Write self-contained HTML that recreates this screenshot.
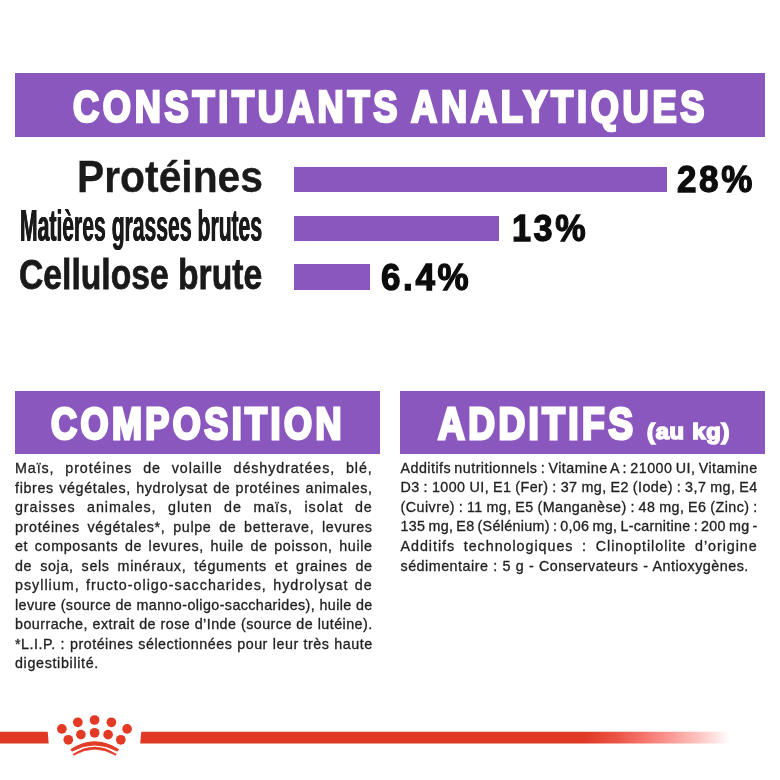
<!DOCTYPE html>
<html lang="fr">
<head>
<meta charset="utf-8">
<title>Constituants analytiques</title>
<style>
html,body{margin:0;padding:0;background:#fff;}
body{width:780px;height:780px;position:relative;overflow:hidden;font-family:"Liberation Sans",sans-serif;}
.box{position:absolute;background:#8a57bf;}
.t{position:absolute;white-space:nowrap;line-height:1;font-weight:bold;transform-origin:0 0;}
.w{color:#fff;}
.k{color:#1a1a1a;}
.v{color:#0c0c0c;-webkit-text-stroke:1.3px #0c0c0c;letter-spacing:2.8px;}
.bar{position:absolute;left:294.1px;height:25.6px;background:#8a57bf;}
.txt{position:absolute;font-size:14.3px;line-height:19.55px;color:#222;letter-spacing:.66px;-webkit-text-stroke:.3px #222;}
.txt div{white-space:nowrap;text-align:justify;text-align-last:justify;height:19.55px;}
.txt div.l{text-align:left;text-align-last:left;}
</style>
</head>
<body>

<!-- top banner -->
<div class="box" style="left:14.7px;top:73.1px;width:750.4px;height:63.8px;"></div>
<div class="t w" id="h1a" style="left:73.37px;top:84.9px;font-size:44px;letter-spacing:4.5px;-webkit-text-stroke:2.7px #fff;transform:scaleX(0.8230);">CONSTITUANTS</div>
<div class="t w" id="h1b" style="left:410.98px;top:84.9px;font-size:44px;letter-spacing:4.5px;-webkit-text-stroke:2.7px #fff;transform:scaleX(0.8237);">ANALYTIQUES</div>

<!-- rows -->
<div class="t k" id="r1" style="left:77.44px;top:155.2px;font-size:44.5px;-webkit-text-stroke:.3px #1a1a1a;transform:scaleX(0.9173);">Protéines</div>
<div class="t k" id="r2" style="left:19.74px;top:203.5px;font-size:44px;text-shadow:.55px 0 0 #1a1a1a,-.55px 0 0 #1a1a1a;transform:scaleX(0.4806);">Matières grasses brutes</div>
<div class="t k" id="r3" style="left:19.22px;top:252.6px;font-size:43.3px;-webkit-text-stroke:.8px #1a1a1a;transform:scaleX(0.7776);">Cellulose brute</div>

<div class="bar" style="top:166.7px;width:373.1px;"></div>
<div class="bar" style="top:215.5px;width:204.9px;"></div>
<div class="bar" style="top:264.3px;width:75.9px;"></div>

<div class="t v" id="v1" style="left:676.72px;top:161.2px;font-size:37.6px;transform:scaleX(0.9320);">28%</div>
<div class="t v" id="v2" style="left:511.61px;top:210.2px;font-size:37px;transform:scaleX(0.9243);">13%</div>
<div class="t v" id="v3" style="left:380.81px;top:259.4px;font-size:37px;transform:scaleX(0.9463);">6.4%</div>

<!-- composition -->
<div class="box" style="left:14.7px;top:390.7px;width:365.5px;height:63.4px;"></div>
<div class="t w" id="h2" style="left:51.44px;top:402px;font-size:44px;letter-spacing:4.2px;-webkit-text-stroke:3px #fff;transform:scaleX(0.8184);">COMPOSITION</div>

<div class="txt" id="c1" style="left:15px;top:459px;width:357.7px;">
<div style="letter-spacing:0.91px">Maïs, protéines de volaille déshydratées, blé,</div>
<div>fibres végétales, hydrolysat de protéines animales,</div>
<div style="letter-spacing:0.91px">graisses animales, gluten de maïs, isolat de</div>
<div>protéines végétales*, pulpe de betterave, levures</div>
<div>et composants de levures, huile de poisson, huile</div>
<div>de soja, sels minéraux, téguments et graines de</div>
<div style="letter-spacing:1px">psyllium, fructo-oligo-saccharides, hydrolysat de</div>
<div style="letter-spacing:0.41px;word-spacing:-.8px">levure (source de manno-oligo-saccharides), huile de</div>
<div style="letter-spacing:0.46px;word-spacing:-.8px">bourrache, extrait de rose d’Inde (source de lutéine).</div>
<div style="letter-spacing:0.51px;word-spacing:-.5px">*L.I.P. : protéines sélectionnées pour leur très haute</div>
<div class="l">digestibilité.</div>
</div>

<!-- additifs -->
<div class="box" style="left:399.8px;top:390.7px;width:365.3px;height:63.4px;"></div>
<div class="t w" id="h3" style="left:438.2px;top:402.3px;font-size:44px;letter-spacing:4.06px;-webkit-text-stroke:3px #fff;transform:scaleX(.8425);">ADDITIFS</div>
<div class="t w" id="h4" style="left:647.15px;top:421px;font-size:22.3px;letter-spacing:0.76px;-webkit-text-stroke:1.7px #fff;transform:scaleX(1.0599);">(au kg)</div>

<div class="txt" id="c2" style="left:400.5px;top:458.8px;width:357.2px;">
<div style="letter-spacing:0.46px;word-spacing:-1.5px">Additifs nutritionnels : Vitamine A : 21000 UI, Vitamine</div>
<div style="letter-spacing:0.46px;word-spacing:-1.5px">D3 : 1000 UI, E1 (Fer) : 37 mg, E2 (Iode) : 3,7 mg, E4</div>
<div style="letter-spacing:0.46px;word-spacing:-1.5px">(Cuivre) : 11 mg, E5 (Manganèse) : 48 mg, E6 (Zinc) :</div>
<div style="letter-spacing:0.31px;word-spacing:-1.5px">135 mg, E8 (Sélénium) : 0,06 mg, L-carnitine : 200 mg -</div>
<div style="letter-spacing:0.96px">Additifs technologiques : Clinoptilolite d’origine</div>
<div style="letter-spacing:.5px;word-spacing:-.3px;width:348.3px">sédimentaire : 5 g - Conservateurs - Antioxygènes.</div>
</div>

<!-- footer line + crown -->
<svg style="position:absolute;left:0;top:700px" width="780" height="80" viewBox="0 700 780 80">
<defs>
<linearGradient id="fade" gradientUnits="userSpaceOnUse" x1="586" x2="730" y1="0" y2="0">
<stop offset="0" stop-color="#e03a26"/>
<stop offset=".2" stop-color="#ea5243"/>
<stop offset=".4" stop-color="#f4746b"/>
<stop offset=".6" stop-color="#fa9c97"/>
<stop offset=".8" stop-color="#fdc9c6"/>
<stop offset="1" stop-color="#ffffff"/>
</linearGradient>
</defs>
<polygon points="0,731.8 47.7,731.8 48.7,743.4 0,743.4" fill="#e03a26"/>
<polygon points="141.3,731.8 730,731.8 730,743.4 140.2,743.4" fill="url(#fade)"/>
<g fill="#e23a24">
<circle cx="61.9" cy="728.9" r="4.85"/>
<circle cx="77.8" cy="722.3" r="4.85"/>
<circle cx="94.6" cy="720" r="4.85"/>
<circle cx="111.4" cy="722.3" r="4.85"/>
<circle cx="127.1" cy="728.9" r="4.85"/>
<circle cx="68.3" cy="739.8" r="4.85"/>
<circle cx="80.9" cy="734.6" r="4.85"/>
<circle cx="94.6" cy="732.8" r="4.85"/>
<circle cx="108.1" cy="734.6" r="4.85"/>
<circle cx="120.8" cy="739.8" r="4.85"/>
<path d="M70.9 749.5 Q94.6 734.1 118.5 749.5 L117.4 751.1 Q94.6 738.7 72 751.1 Z" stroke="#e23a24" stroke-width="1" stroke-linejoin="round"/>
<path d="M73.1 754.2 Q94.6 739.9 116.3 754.2 L115.6 755.2 Q94.6 743.1 73.8 755.2 Z" stroke="#e23a24" stroke-width=".7" stroke-linejoin="round"/>
</g>
</svg>

</body>
</html>
